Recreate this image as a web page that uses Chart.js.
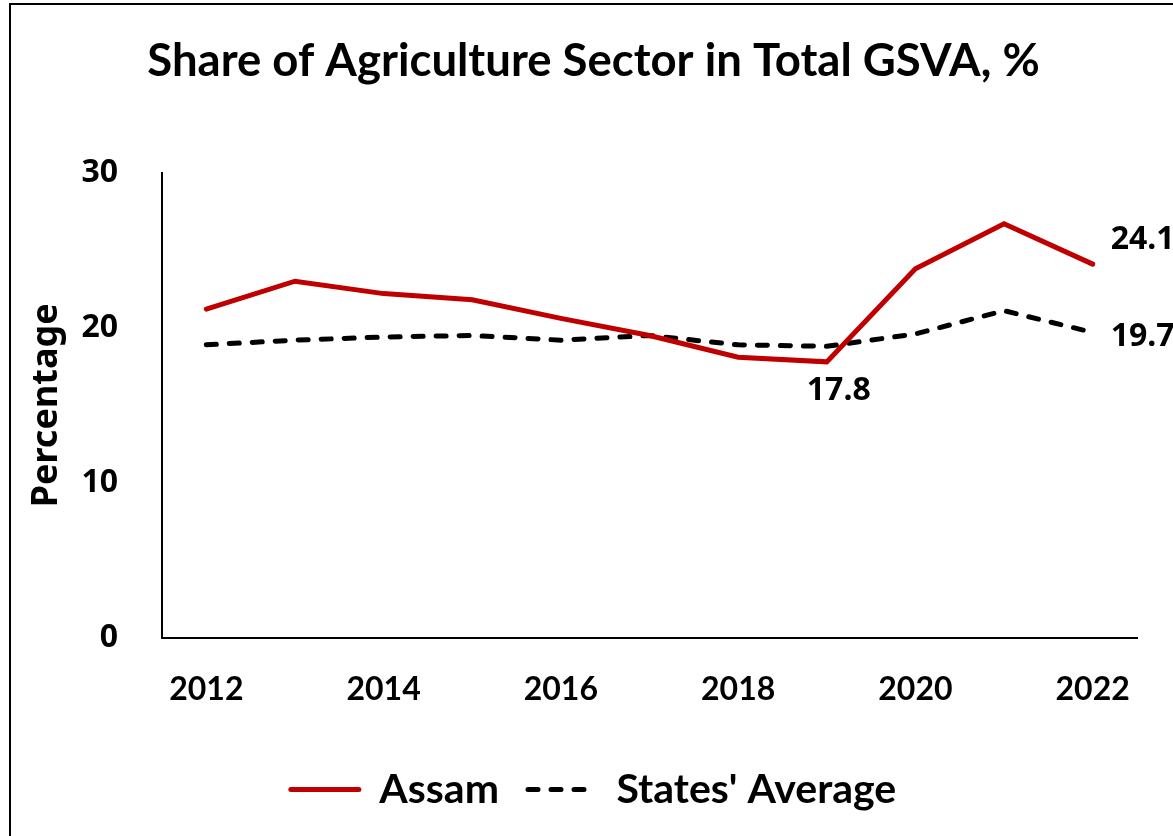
<!DOCTYPE html>
<html>
  <head>
    <meta charset="utf-8" />
    <title>Share of Agriculture Sector in Total GSVA</title>
    <script src="https://cdn.jsdelivr.net/npm/chart.js@4.4.1/dist/chart.umd.min.js"></script>
    <style>
      html, body { margin: 0; padding: 0; background: #fff; }
      #wrap { position: relative; width: 1173px; height: 836px; overflow: hidden; }
      #frame {
        position: absolute; left: 9px; top: 3px; width: 1300px; height: 900px;
        border-left: 2px solid #000; border-top: 2px solid #000; pointer-events: none;
      }
    </style>
  </head>
  <body>
    <div id="wrap">
      <canvas id="myChart" width="1173" height="836"></canvas>
      <div id="frame"></div>
    </div>
    <script>
      const years = ["2012", "2013", "2014", "2015", "2016", "2017", "2018", "2019", "2020", "2021", "2022"];
      const assam = [21.2, 23.0, 22.2, 21.8, 20.6, 19.5, 18.1, 17.8, 23.8, 26.7, 24.1];
      const statesAvg = [18.9, 19.2, 19.4, 19.5, 19.2, 19.5, 18.9, 18.8, 19.6, 21.1, 19.7];
      const yTicks = [0, 10, 20, 30];
      // points that carry a value label: [datasetIndex, pointIndex]
      const labelled = [[0, 7], [0, 10], [1, 10]];

      const humanist = "Lato, 'Noto Sans', sans-serif";
      const sans = "'Noto Sans', sans-serif";

      // value labels next to selected points
      const valueLabels = {
        id: "valueLabels",
        afterDatasetsDraw(chart, args, opts) {
          const ctx = chart.ctx;
          ctx.save();
          ctx.font = "bold 32px " + sans;
          ctx.fillStyle = "#000";
          ctx.textBaseline = "middle";
          labelled.forEach(([d, i], k) => {
            const pt = chart.getDatasetMeta(d).data[i];
            const v = chart.data.datasets[d].data[i];
            const off = opts.offsets[k];
            ctx.textAlign = off.align;
            ctx.fillText(v.toFixed(1), pt.x + off.dx, pt.y + off.dy);
          });
          ctx.restore();
        },
      };

      const data = {
        labels: years,
        datasets: [
          {
            label: "Assam",
            data: assam,
            borderColor: "#C00000",
            backgroundColor: "#C00000",
            borderWidth: 5,
            borderCapStyle: "round",
            pointRadius: 0,
            tension: 0,
          },
          {
            label: "States' Average",
            data: statesAvg,
            borderColor: "#000000",
            backgroundColor: "#000000",
            borderWidth: 5,
            borderDash: [10, 13],
            borderCapStyle: "round",
            pointRadius: 0,
            tension: 0,
          },
        ],
      };

      const config = {
        type: "line",
        data: data,
        plugins: [valueLabels],
        options: {
          responsive: false,
          animation: false,
          layout: { padding: { left: 50, right: 36, top: 0, bottom: 16 } },
          plugins: {
            title: {
              display: true,
              text: "Share of Agriculture Sector in Total GSVA, %",
              color: "#000",
              font: { family: humanist, size: 45.5, weight: "bold" },
              padding: { top: 34, bottom: 84 },
            },
            legend: {
              position: "bottom",
              labels: {
                color: "#000",
                font: { family: humanist, size: 41, weight: "bold" },
                usePointStyle: true,
                pointStyleWidth: 68,
                padding: 29,
                generateLabels(chart) {
                  return chart.data.datasets.map((ds, i) => ({
                    text: ds.label,
                    datasetIndex: i,
                    fillStyle: ds.borderColor,
                    strokeStyle: ds.borderColor,
                    fontColor: "#000",
                    lineWidth: ds.borderWidth,
                    lineDash: ds.borderDash || [],
                    lineCap: "round",
                    pointStyle: "line",
                    hidden: false,
                  }));
                },
              },
            },
            tooltip: { enabled: false },
            valueLabels: {
              offsets: [
                { dx: 12, dy: 29, align: "center" },
                { dx: 18, dy: -24, align: "left" },
                { dx: 18, dy: 5, align: "left" },
              ],
            },
          },
          scales: {
            x: {
              offset: true,
              afterFit: (scale) => {
                scale.height = 102;
              },
              grid: { display: false, drawTicks: false },
              border: { display: true, color: "#000", width: 2 },
              ticks: {
                color: "#000",
                font: { family: humanist, size: 32, weight: "bold" },
                padding: 32,
                autoSkip: false,
                maxRotation: 0,
                callback: (v, i) => (i % 2 === 0 ? years[i] : ""),
              },
            },
            y: {
              min: 0,
              max: 30,
              afterBuildTicks: (scale) => {
                scale.ticks = yTicks.map((v) => ({ value: v }));
              },
              afterFit: (scale) => {
                scale.width = 112;
              },
              grid: { display: false, drawTicks: false },
              border: { display: true, color: "#000", width: 2 },
              title: {
                display: true,
                text: "Percentage",
                color: "#000",
                font: { family: sans, size: 36, weight: "bold" },
                padding: { top: -25, bottom: 0 },
              },
              ticks: {
                color: "#000",
                font: { family: sans, size: 32, weight: "bold" },
                padding: 44,
              },
            },
          },
        },
      };

      const ctx = document.getElementById("myChart");
      const myChart = new Chart(ctx, config);
    </script>
  </body>
</html>
